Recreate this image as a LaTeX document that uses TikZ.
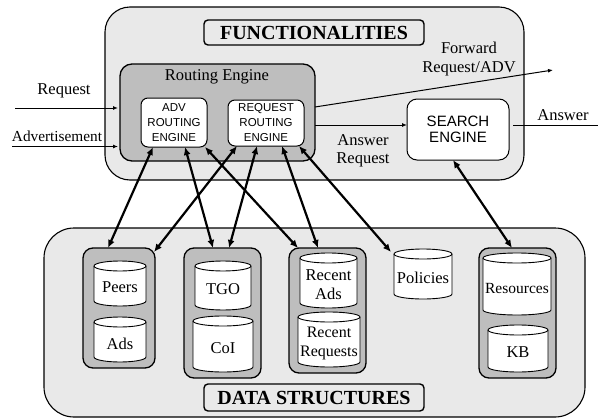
\documentclass[tikz,border=0pt]{standalone}
\usepackage{fontspec}
\setmainfont{Liberation Serif}
\setsansfont{Liberation Sans}
\usetikzlibrary{arrows.meta}
\definecolor{outerfill}{RGB}{233,233,233}
\definecolor{groupfill}{RGB}{190,190,190}
\newcommand\dbcyl[7][]{%
  \draw[cylline] ({#3-#5},{#4-#6/2+5}) -- ({#3-#5},{#4+#6/2-5})
     arc[start angle=180,end angle=360,x radius=#5pt,y radius=5pt]
     -- ({#3+#5},{#4-#6/2+5})
     arc[start angle=0,end angle=180,x radius=#5pt,y radius=5pt] -- cycle;
  \draw[line width=0.9pt] ({#3-#5},{#4-#6/2+5}) arc[start angle=180,end angle=360,x radius=#5pt,y radius=5pt];
  \node[cylbox, minimum width={2*#5}, minimum height=#6] (#2) at (#3,#4) {};
  \node[cyltext,#1] (#2-text) at ([yshift=-4pt]#2.center) {#7};
}
\begin{document}
\begin{tikzpicture}[x=1pt,y=-1pt,
  every node/.style={inner sep=0pt, outer sep=0pt},
  bigbox/.style={draw, line width=1.1pt, fill=outerfill, rounded corners=#1},
  titlebox/.style={draw, line width=1.4pt, fill=outerfill, rounded corners=4pt, font=\fontsize{20}{24}\selectfont\bfseries},
  grpbox/.style={draw, line width=1.3pt, fill=groupfill, rounded corners=#1},
  engbox/.style={draw, line width=1pt, fill=white, rounded corners=#1, align=center},
  lbl/.style={font=\fontsize{16.5}{18.5}\selectfont, align=center},
  cylbox/.style={},
  cyltext/.style={font=\fontsize{16.5}{19.5}\selectfont, align=center},
  cylline/.style={draw, line width=0.9pt, fill=white},
  biglink/.style={line width=2.2pt, {Latex[length=8pt,width=7pt]}-{Latex[length=8pt,width=7pt]}},
  thinlink/.style={line width=1pt, -{Latex[length=5pt,width=4pt]}},
]
\useasboundingbox (0,0) rectangle (598,418);

% Functionalities
\node[bigbox=25pt, minimum width=419, minimum height=173] (func) at (314.5,93.5) {};
\node[titlebox, minimum width=220, minimum height=25] (functitle) at (314,32.5) {FUNCTIONALITIES};
\node[grpbox=12pt, minimum width=195, minimum height=97] (re) at (217.5,112.5) {};
\node[lbl] (retitle) at (217,77) {Routing Engine};
\node[engbox=7pt, minimum width=66, minimum height=49, font=\sffamily\fontsize{11.5}{15}\selectfont] (adv) at (174,122.5) {ADV\\ROUTING\\ENGINE};
\node[engbox=7pt, minimum width=76, minimum height=46, font=\sffamily\fontsize{11.5}{15}\selectfont] (req) at (266,123) {REQUEST\\ROUTING\\ENGINE};
\node[engbox=10pt, minimum width=102, minimum height=61, font=\sffamily\fontsize{15}{16.5}\selectfont] (search) at (458,129.5) {SEARCH\\ENGINE};

% Data structures
\node[bigbox=30pt, minimum width=541, minimum height=189] (ds) at (314.5,322.5) {};
\node[titlebox, minimum width=220, minimum height=27] (dstitle) at (314,397.5) {DATA STRUCTURES};
\node[grpbox=10pt, minimum width=72, minimum height=120] (g1) at (119,308) {};
\node[grpbox=10pt, minimum width=77, minimum height=130] (g2) at (222.5,313) {};
\node[grpbox=10pt, minimum width=77, minimum height=125] (g3) at (327.5,310.5) {};
\node[grpbox=10pt, minimum width=77, minimum height=130] (g4) at (517.5,313) {};

\dbcyl{peers}{120}{283.5}{26}{45}{Peers}
\dbcyl{ads}{120}{339.5}{26}{45}{Ads}
\dbcyl{tgo}{223}{285.5}{28}{49}{TGO}
\dbcyl{coi}{223}{344}{30}{56}{CoI}
\dbcyl{rads}{328.5}{280.5}{28.5}{55}{Recent\\Ads}
\dbcyl[font=\fontsize{16}{19}\selectfont]{rreq}{329}{339.5}{31}{55}{Recent\\Requests}
\dbcyl{pol}{423}{274}{29}{50}{Policies}
\dbcyl[font=\fontsize{15.5}{19}\selectfont]{res}{517}{284}{34}{62}{Resources}
\dbcyl{kb}{518}{348.5}{30}{47}{KB}

% thick links
\draw[biglink] ([xshift=12pt]adv.south west) -- ([xshift=25pt]g1.north west);
\draw[biglink] ([xshift=44pt]adv.south west) -- ([xshift=29pt]g2.north west);
\draw[biglink] ([xshift=-2pt]adv.south east) -- ([xshift=9pt]g3.north west);
\draw[biglink] ([xshift=9pt]req.south west) -- ([xshift=-1pt,yshift=-4pt]g1.north east);
\draw[biglink] ([xshift=29pt]req.south west) -- ([xshift=45pt]g2.north west);
\draw[biglink] ([xshift=54pt]req.south west) -- ([xshift=29pt]g3.north west);
\draw[biglink] ([xshift=-5pt]req.south east) -- ([xshift=-3pt,yshift=-3pt]pol.north west);
\draw[biglink] ([xshift=-5pt]search.south) -- ([xshift=33pt]g4.north west);

% thin links
\coordinate (reqin) at (15,108);
\coordinate (advin) at (12,146.5);
\coordinate (fwdout) at (553,70);
\coordinate (ansout) at (598,125);
\draw[thinlink] (reqin) -- ([xshift=-2pt]reqin -| re.west);
\draw[thinlink] (advin) -- ([xshift=-2pt]advin -| re.west);
\draw[thinlink] ([yshift=5.5pt]re.east) -- (fwdout);
\draw[thinlink] ([yshift=-12.5pt]re.east) -- ([yshift=4.5pt]search.west);
\draw[line width=1pt, shorten <=4pt] ([yshift=4.5pt]search.east) -- (ansout);

% labels
\node[lbl] (lreq) at (64,91) {Request};
\node[lbl, font=\fontsize{15.3}{18}\selectfont] (ladv) at (57,136) {Advertisement};
\node[lbl] (lfwd) at (469,59) {Forward\\Request/ADV};
\node[lbl] (lansreq) at (363,151) {Answer\\Request};
\node[lbl] (lans) at (563,115) {Answer};
\end{tikzpicture}
\end{document}
